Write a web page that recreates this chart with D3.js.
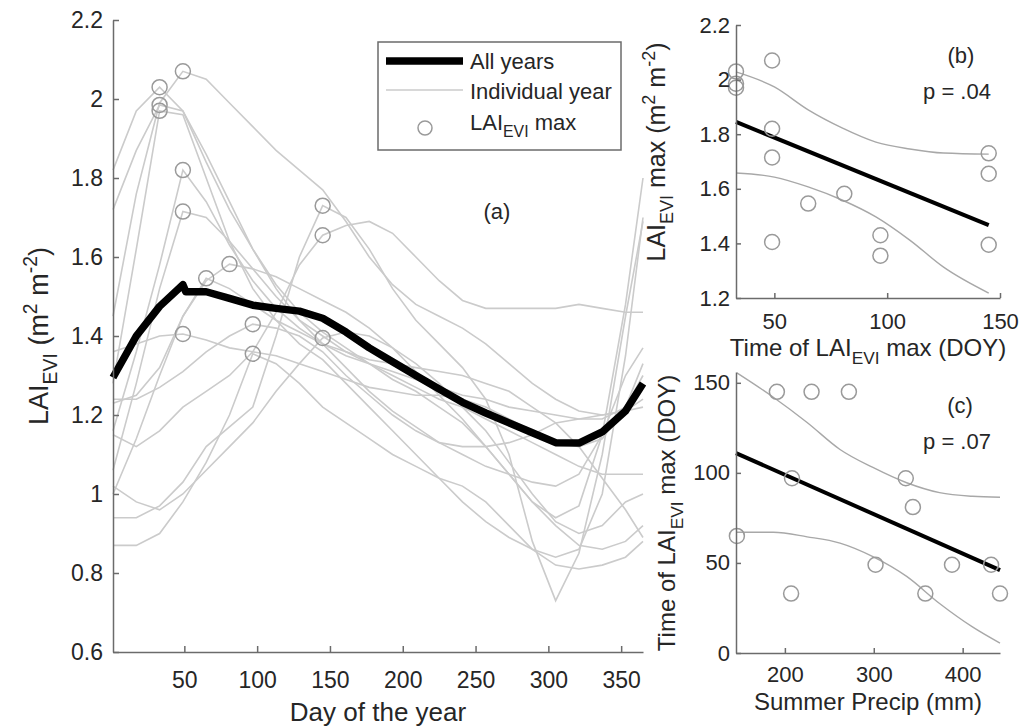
<!DOCTYPE html>
<html>
<head>
<meta charset="utf-8">
<script src="https://cdn.jsdelivr.net/npm/d3@7"></script>
<style>
  body { margin: 0; background: #fff; }
  text { font-family: "Liberation Sans", Arial, sans-serif; fill: #262626; }
  .domain, .tick line { stroke: #6b6b6b; stroke-width: 1.5; }
</style>
</head>
<body>
<svg width="1030" height="727"></svg>
<script>
//data: day of year of each composite
const doy = [1, 17, 33, 49, 65, 81, 97, 113, 129, 145, 161, 177, 193, 209, 225, 241, 257, 273, 289, 305, 321, 337, 353, 365];

//LAI EVI per individual year
const yearLai = [
  [1.82, 1.97, 2.03, 1.97, 1.84, 1.72, 1.62, 1.53, 1.46, 1.41, 1.37, 1.33, 1.29, 1.26, 1.22, 1.18, 1.12, 1.05, 0.98, 0.94, 0.97, 1.15, 1.48, 1.80],
  [1.72, 1.87, 1.985, 1.97, 1.86, 1.74, 1.62, 1.52, 1.44, 1.38, 1.32, 1.26, 1.21, 1.17, 1.13, 1.10, 1.07, 1.05, 1.03, 1.02, 1.05, 1.15, 1.30, 1.37],
  [1.28, 1.62, 1.97, 1.96, 1.80, 1.64, 1.52, 1.44, 1.38, 1.34, 1.28, 1.22, 1.16, 1.10, 1.04, 0.98, 0.93, 0.89, 0.86, 0.84, 0.86, 1.00, 1.35, 1.70],
  [1.45, 1.76, 1.99, 2.07, 2.05, 1.99, 1.93, 1.87, 1.82, 1.77, 1.69, 1.60, 1.53, 1.48, 1.45, 1.42, 1.38, 1.33, 1.28, 1.24, 1.21, 1.20, 1.21, 1.24],
  [1.16, 1.36, 1.58, 1.82, 1.74, 1.63, 1.54, 1.47, 1.42, 1.38, 1.36, 1.34, 1.33, 1.32, 1.31, 1.30, 1.28, 1.26, 1.22, 1.18, 1.12, 1.04, 0.96, 0.89],
  [1.06, 1.28, 1.52, 1.715, 1.70, 1.64, 1.57, 1.50, 1.44, 1.40, 1.36, 1.33, 1.30, 1.27, 1.24, 1.22, 1.19, 1.16, 1.13, 1.10, 1.07, 1.05, 1.05, 1.05],
  [1.36, 1.38, 1.40, 1.405, 1.39, 1.37, 1.36, 1.35, 1.33, 1.31, 1.29, 1.27, 1.26, 1.25, 1.25, 1.24, 1.22, 1.19, 1.16, 1.13, 1.12, 1.14, 1.22, 1.30],
  [1.00, 1.14, 1.30, 1.45, 1.546, 1.52, 1.48, 1.44, 1.41, 1.38, 1.35, 1.33, 1.31, 1.29, 1.27, 1.25, 1.24, 1.22, 1.21, 1.20, 1.19, 1.19, 1.22, 1.33],
  [1.23, 1.25, 1.32, 1.45, 1.54, 1.582, 1.57, 1.55, 1.52, 1.49, 1.46, 1.42, 1.37, 1.31, 1.25, 1.19, 1.12, 1.05, 0.98, 0.92, 0.87, 0.86, 0.88, 0.92],
  [1.24, 1.24, 1.27, 1.31, 1.36, 1.40, 1.43, 1.42, 1.40, 1.36, 1.30, 1.25, 1.20, 1.16, 1.13, 1.12, 1.12, 1.13, 1.15, 1.18, 1.19, 1.20, 1.21, 1.22],
  [0.87, 0.87, 0.90, 0.98, 1.08, 1.20, 1.355, 1.33, 1.28, 1.22, 1.18, 1.14, 1.10, 1.07, 1.04, 1.02, 0.98, 0.92, 0.86, 0.82, 0.81, 0.82, 0.84, 0.88],
  [0.94, 0.94, 0.97, 1.03, 1.12, 1.17, 1.22, 1.40, 1.60, 1.73, 1.70, 1.62, 1.52, 1.44, 1.38, 1.32, 1.24, 1.10, 0.88, 0.73, 0.85, 1.10, 1.45, 1.69],
  [1.15, 1.12, 1.16, 1.22, 1.26, 1.30, 1.36, 1.46, 1.58, 1.655, 1.68, 1.69, 1.66, 1.60, 1.54, 1.49, 1.47, 1.47, 1.47, 1.47, 1.48, 1.47, 1.46, 1.46],
  [1.02, 0.98, 0.96, 1.00, 1.06, 1.12, 1.18, 1.26, 1.33, 1.395, 1.41, 1.40, 1.37, 1.33, 1.28, 1.22, 1.16, 1.08, 1.00, 0.93, 0.90, 0.92, 0.98, 1.00]
];

//all years mean
const meanDoy = [1, 17, 33, 49, 51, 65, 81, 97, 113, 129, 145, 161, 177, 193, 209, 225, 241, 257, 273, 289, 305, 321, 337, 353, 365];
const meanLai = [1.295, 1.40, 1.475, 1.53, 1.512, 1.512, 1.495, 1.478, 1.47, 1.463, 1.445, 1.41, 1.37, 1.335, 1.30, 1.266, 1.232, 1.205, 1.18, 1.155, 1.13, 1.129, 1.157, 1.21, 1.28];

//LAI max per year
const maxDoy = [33, 33, 33, 49, 49, 49, 49, 65, 81, 97, 97, 145, 145, 145];
const maxLai = [2.03, 1.985, 1.97, 2.07, 1.82, 1.715, 1.405, 1.546, 1.582, 1.43, 1.355, 1.73, 1.655, 1.395];

//summer precip vs time of max
const precipMm = [191, 230, 272, 208, 336, 344, 146, 302, 388, 432, 207, 358, 442];
const precipDoy = [145, 145, 145, 97, 97, 81, 65, 49, 49, 49, 33, 33, 33];

//regression fits and confidence bands
const fitBx = [33, 145];
const fitBy = [1.845, 1.467];
const ciBx = [33, 50, 65, 80, 95, 110, 125, 145];
const ciBup = [2.028, 1.973, 1.889, 1.823, 1.771, 1.746, 1.731, 1.727];
const ciBlo = [1.658, 1.643, 1.607, 1.559, 1.497, 1.412, 1.313, 1.218];

const fitCx = [145, 442];
const fitCy = [111, 46];
const ciCx = [146, 187, 225, 262, 299, 337, 374, 411, 442];
const ciCup = [155.5, 142, 128, 113, 103, 94.5, 89, 87, 86.5];
const ciClo = [67, 67, 64.5, 61, 53.5, 42.5, 27.5, 14.5, 5.5];

//tick labels
const ticksA_y = [0.6, 0.8, 1, 1.2, 1.4, 1.6, 1.8, 2, 2.2];
const ticksA_x = [50, 100, 150, 200, 250, 300, 350];
const ticksB_y = [1.2, 1.4, 1.6, 1.8, 2, 2.2];
const ticksB_x = [50, 100, 150];
const ticksC_y = [0, 50, 100, 150];
const ticksC_x = [200, 300, 400];

const lightGray = "#cbcbcb";
const circleGray = "#9a9a9a";
const fmt = d => String(+d.toFixed(1));

const svg = d3.select("svg");

//rich text with sub / superscripts
function richText(sel, parts, size) {
    let shift = 0;
    parts.forEach(p => {
        let target = p.sub ? size * 0.32 : p.sup ? -size * 0.42 : 0;
        sel.append("tspan")
            .attr("dy", target - shift)
            .attr("font-size", (p.sub || p.sup) ? size * 0.72 : size)
            .text(p.t);
        shift = target;
    });
    return sel;
}

function styleAxis(g, size) {
    g.selectAll("text").style("font-size", size + "px").attr("fill", "#262626");
    g.select(".domain").attr("stroke", "#6b6b6b");
    g.selectAll(".tick line").attr("stroke", "#6b6b6b");
}

// ---------- panel (a) ----------
const xA = d3.scaleLinear().domain([1, 365]).range([113, 643]);
const yA = d3.scaleLinear().domain([0.6, 2.2]).range([652, 20]);

const lineA = d3.line().x(d => xA(d[0])).y(d => yA(d[1]));

svg.append("g")
    .selectAll("path")
    .data(yearLai)
    .enter()
    .append("path")
    .attr("d", v => lineA(v.map((y, i) => [doy[i], y])))
    .attr("fill", "none")
    .attr("stroke", lightGray)
    .attr("stroke-width", 1.6);

svg.append("path")
    .attr("d", lineA(meanLai.map((y, i) => [meanDoy[i], y])))
    .attr("fill", "none")
    .attr("stroke", "#000")
    .attr("stroke-width", 7.5)
    .attr("stroke-linejoin", "round");

svg.append("g")
    .selectAll("circle")
    .data(maxLai)
    .enter()
    .append("circle")
    .attr("cx", (d, i) => xA(maxDoy[i]))
    .attr("cy", d => yA(d))
    .attr("r", 7.5)
    .attr("fill", "none")
    .attr("stroke", circleGray)
    .attr("stroke-width", 1.5);

svg.append("g")
    .attr("transform", "translate(113,0)")
    .call(d3.axisLeft(yA).tickValues(ticksA_y).tickFormat(fmt).tickSizeInner(-6).tickSizeOuter(0).tickPadding(10))
    .call(g => styleAxis(g, 23));

svg.append("g")
    .attr("transform", "translate(0,652)")
    .call(d3.axisBottom(xA).tickValues(ticksA_x).tickSizeInner(-6).tickSizeOuter(0).tickPadding(20))
    .call(g => styleAxis(g, 23));

svg.append("text")
    .attr("x", 378)
    .attr("y", 721)
    .attr("text-anchor", "middle")
    .style("font-size", "26px")
    .text("Day of the year");

richText(svg.append("text")
    .attr("transform", "translate(48,336) rotate(-90)")
    .attr("text-anchor", "middle")
    .style("font-size", "27px"),
    [{t: "LAI"}, {t: "EVI", sub: true}, {t: " (m"}, {t: "2", sup: true}, {t: " m"}, {t: "-2", sup: true}, {t: ")"}], 27);

svg.append("text")
    .attr("x", 497)
    .attr("y", 219)
    .attr("text-anchor", "middle")
    .style("font-size", "22px")
    .text("(a)");

//legend
const legend = svg.append("g");
legend.append("rect")
    .attr("x", 378).attr("y", 42)
    .attr("width", 243).attr("height", 108)
    .attr("fill", "#fff")
    .attr("stroke", "#6b6b6b")
    .attr("stroke-width", 1.5);
legend.append("line")
    .attr("x1", 386).attr("x2", 463).attr("y1", 61).attr("y2", 61)
    .attr("stroke", "#000").attr("stroke-width", 7.5);
legend.append("line")
    .attr("x1", 386).attr("x2", 463).attr("y1", 90).attr("y2", 90)
    .attr("stroke", lightGray).attr("stroke-width", 1.6);
legend.append("circle")
    .attr("cx", 425).attr("cy", 128).attr("r", 7)
    .attr("fill", "none").attr("stroke", circleGray).attr("stroke-width", 1.5);
legend.append("text").attr("x", 470).attr("y", 69).style("font-size", "22px").text("All years");
legend.append("text").attr("x", 470).attr("y", 99).style("font-size", "22px").text("Individual year");
richText(legend.append("text").attr("x", 470).attr("y", 130).style("font-size", "22px"),
    [{t: "LAI"}, {t: "EVI", sub: true}, {t: " max"}], 22);

// ---------- panel (b) ----------
const xB = d3.scaleLinear().domain([33, 150]).range([736, 1000]);
const yB = d3.scaleLinear().domain([1.2, 2.2]).range([298, 25]);

const ciLineB = d3.line().x(d => xB(d[0])).y(d => yB(d[1])).curve(d3.curveMonotoneX);
[ciBup, ciBlo].forEach(c => {
    svg.append("path")
        .attr("d", ciLineB(c.map((v, i) => [ciBx[i], v])))
        .attr("fill", "none")
        .attr("stroke", "#a8a8a8")
        .attr("stroke-width", 1.4);
});

svg.append("path")
    .attr("d", d3.line().x(d => xB(d[0])).y(d => yB(d[1]))(fitBx.map((x, i) => [x, fitBy[i]])))
    .attr("stroke", "#000")
    .attr("stroke-width", 4);

svg.append("g")
    .selectAll("circle")
    .data(maxLai)
    .enter()
    .append("circle")
    .attr("cx", (d, i) => xB(maxDoy[i]))
    .attr("cy", d => yB(d))
    .attr("r", 7.5)
    .attr("fill", "none")
    .attr("stroke", circleGray)
    .attr("stroke-width", 1.5);

svg.append("g")
    .attr("transform", "translate(736,0)")
    .call(d3.axisLeft(yB).tickValues(ticksB_y).tickFormat(fmt).tickSizeInner(-5).tickSizeOuter(0).tickPadding(6))
    .call(g => styleAxis(g, 22));

svg.append("g")
    .attr("transform", "translate(0,298)")
    .call(d3.axisBottom(xB).tickValues(ticksB_x).tickSizeInner(-5).tickSizeOuter(0).tickPadding(15))
    .call(g => styleAxis(g, 22));

richText(svg.append("text")
    .attr("x", 868).attr("y", 356)
    .attr("text-anchor", "middle")
    .style("font-size", "24px"),
    [{t: "Time of LAI"}, {t: "EVI", sub: true}, {t: " max (DOY)"}], 24);

richText(svg.append("text")
    .attr("transform", "translate(665,152) rotate(-90)")
    .attr("text-anchor", "middle")
    .style("font-size", "25px"),
    [{t: "LAI"}, {t: "EVI", sub: true}, {t: " max (m"}, {t: "2", sup: true}, {t: " m"}, {t: "-2", sup: true}, {t: ")"}], 25);

svg.append("text").attr("x", 961).attr("y", 63).attr("text-anchor", "middle").style("font-size", "22px").text("(b)");
svg.append("text").attr("x", 957).attr("y", 99).attr("text-anchor", "middle").style("font-size", "22px").text("p = .04");

// ---------- panel (c) ----------
const xC = d3.scaleLinear().domain([145, 442]).range([736, 1000]);
const yC = d3.scaleLinear().domain([0, 156]).range([653, 372]);

const ciLineC = d3.line().x(d => xC(d[0])).y(d => yC(d[1])).curve(d3.curveMonotoneX);
[ciCup, ciClo].forEach(c => {
    svg.append("path")
        .attr("d", ciLineC(c.map((v, i) => [ciCx[i], v])))
        .attr("fill", "none")
        .attr("stroke", "#a8a8a8")
        .attr("stroke-width", 1.4);
});

svg.append("path")
    .attr("d", d3.line().x(d => xC(d[0])).y(d => yC(d[1]))(fitCx.map((x, i) => [x, fitCy[i]])))
    .attr("stroke", "#000")
    .attr("stroke-width", 4);

svg.append("g")
    .selectAll("circle")
    .data(precipMm)
    .enter()
    .append("circle")
    .attr("cx", d => xC(d))
    .attr("cy", (d, i) => yC(precipDoy[i]))
    .attr("r", 7.5)
    .attr("fill", "none")
    .attr("stroke", circleGray)
    .attr("stroke-width", 1.5);

svg.append("g")
    .attr("transform", "translate(736,0)")
    .call(d3.axisLeft(yC).tickValues(ticksC_y).tickSizeInner(-5).tickSizeOuter(0).tickPadding(6))
    .call(g => styleAxis(g, 22));

svg.append("g")
    .attr("transform", "translate(0,653)")
    .call(d3.axisBottom(xC).tickValues(ticksC_x).tickSizeInner(-5).tickSizeOuter(0).tickPadding(13))
    .call(g => styleAxis(g, 22));

svg.append("text")
    .attr("x", 868).attr("y", 710)
    .attr("text-anchor", "middle")
    .style("font-size", "24px")
    .text("Summer Precip (mm)");

richText(svg.append("text")
    .attr("transform", "translate(675,513) rotate(-90)")
    .attr("text-anchor", "middle")
    .style("font-size", "24px"),
    [{t: "Time of LAI"}, {t: "EVI", sub: true}, {t: " max (DOY)"}], 24);

svg.append("text").attr("x", 960).attr("y", 413).attr("text-anchor", "middle").style("font-size", "22px").text("(c)");
svg.append("text").attr("x", 957).attr("y", 449).attr("text-anchor", "middle").style("font-size", "22px").text("p = .07");
</script>
</body>
</html>
